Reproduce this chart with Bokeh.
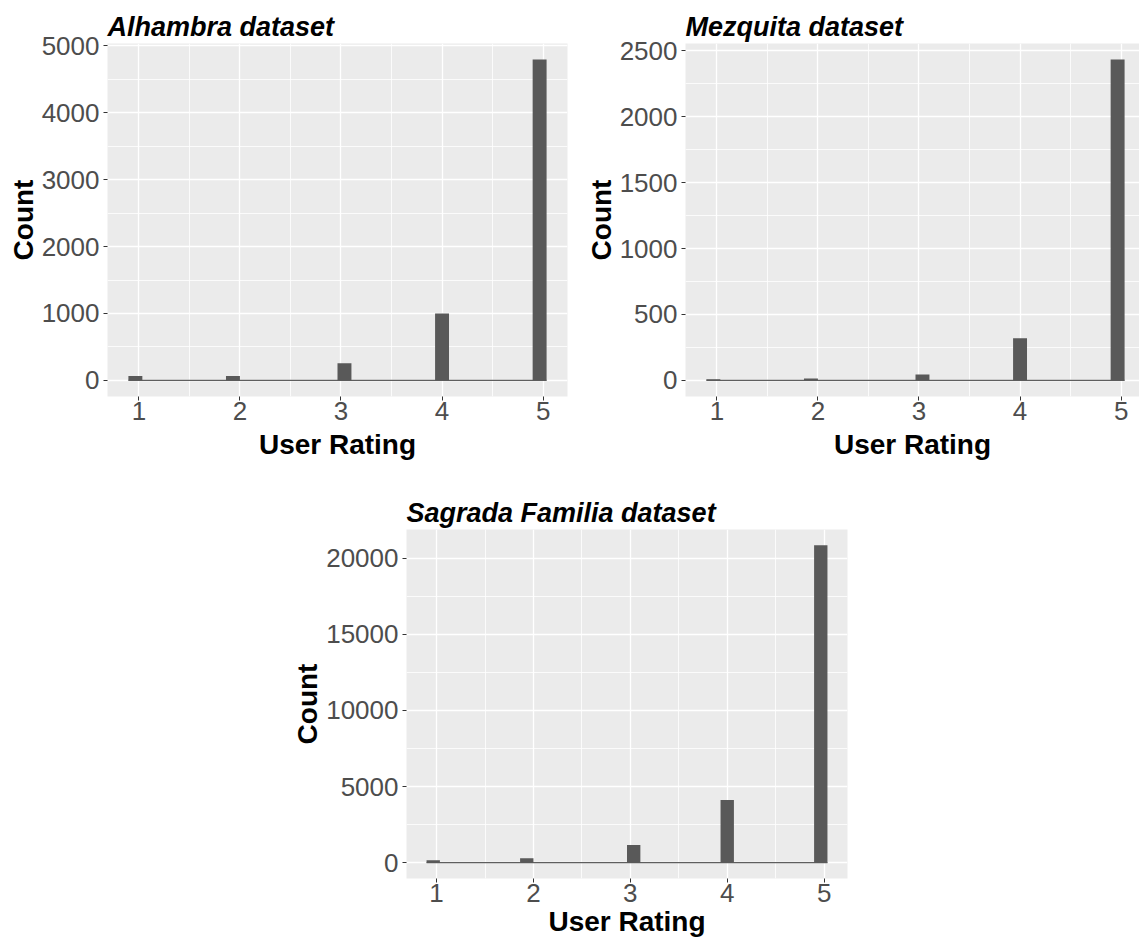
import math
from bokeh.plotting import figure
from bokeh.models import Range1d, FixedTicker, Spacer
from bokeh.layouts import column, row
from bokeh.embed import file_html
from bokeh.resources import INLINE

# ---------------- data ----------------
ratings = [1, 2, 3, 4, 5]

alhambra_counts = [65, 65, 257, 1000, 4792]
mezquita_counts = [10, 15, 45, 320, 2432]
sagrada_counts = [150, 290, 1160, 4120, 20850]

alhambra_title = "Alhambra dataset"
mezquita_title = "Mezquita dataset"
sagrada_title = "Sagrada Familia dataset"

x_ticks = [1, 2, 3, 4, 5]
alhambra_yticks = [0, 1000, 2000, 3000, 4000, 5000]
mezquita_yticks = [0, 500, 1000, 1500, 2000, 2500]
sagrada_yticks = [0, 5000, 10000, 15000, 20000]

x_label = "User Rating"
y_label = "Count"
n_bins = 30

# ---------------- style ----------------
FONT = "Liberation Sans"
PANEL_BG = "#EBEBEB"
BAR = "#595959"
TICK_TXT = "#4D4D4D"
TICK_COL = "#333333"


def gg_bins(values, bins):
    lo, hi = min(values), max(values)
    width = (hi - lo) / (bins - 1)
    boundary = width / 2
    shift = math.floor((lo - boundary) / width)
    origin = boundary + shift * width
    lefts = []
    for v in values:
        idx = math.ceil((v - origin) / width - 1e-7) - 1
        lefts.append(origin + idx * width)
    rights = [l + width for l in lefts]
    return lefts, rights


def midpoints(t):
    return [(a + b) / 2 for a, b in zip(t[:-1], t[1:])]


def make_panel(title, counts, yticks, width, height, bl, br, bt, bb,
               x_frac=1.0, xlab_standoff=6):
    lefts, rights = gg_bins(ratings, n_bins)
    x0, x1 = min(lefts), max(rights)
    xs = (x1 - x0) * 0.05
    xr0, xr1 = x0 - xs, x1 + xs
    xr1 = xr0 + (xr1 - xr0) * x_frac
    ymax = max(counts)
    yr = Range1d(-0.05 * ymax, 1.05 * ymax)

    p = figure(width=width, height=height, output_backend="svg", toolbar_location=None,
               x_range=Range1d(xr0, xr1), y_range=yr,
               min_border_left=bl, min_border_right=br, min_border_top=bt, min_border_bottom=bb)
    p.background_fill_color = PANEL_BG
    p.border_fill_color = "white"
    p.outline_line_color = None

    p.title.text = title
    p.title.text_font = FONT
    p.title.text_font_size = "27px"
    p.title.text_font_style = "bold italic"
    p.title.text_color = "black"
    p.title.align = "left"
    p.title.offset = 0
    p.title.standoff = 4

    p.xaxis.ticker = FixedTicker(ticks=x_ticks, minor_ticks=midpoints(x_ticks))
    p.yaxis.ticker = FixedTicker(ticks=yticks, minor_ticks=midpoints(yticks))

    for ax in (p.xaxis, p.yaxis):
        ax.axis_line_color = None
        ax.major_tick_line_color = TICK_COL
        ax.major_tick_line_width = 1
        ax.major_tick_out = 4
        ax.major_tick_in = 0
        ax.minor_tick_out = 0
        ax.minor_tick_in = 0
        ax.major_label_text_font = FONT
        ax.major_label_text_font_size = "26px"
        ax.major_label_text_color = TICK_TXT
        ax.axis_label_text_font = FONT
        ax.axis_label_text_font_size = "28px"
        ax.axis_label_text_font_style = "bold"
        ax.axis_label_text_color = "black"
    p.xaxis.axis_label = x_label
    p.yaxis.axis_label = y_label
    p.xaxis.major_label_standoff = 1
    p.xaxis.axis_label_standoff = xlab_standoff
    p.yaxis.major_label_standoff = 4
    p.yaxis.axis_label_standoff = 0

    for g in (p.xgrid, p.ygrid):
        g.grid_line_color = "white"
        g.grid_line_width = 1.3
        g.minor_grid_line_color = "white"
        g.minor_grid_line_width = 0.8

    # zero-height bins appear as a baseline
    p.line(x=[min(lefts), max(rights)], y=[0, 0], line_color="#5E5E5E", line_width=1.3)
    p.quad(left=lefts, right=rights, bottom=[0] * len(counts), top=counts,
           fill_color=BAR, line_color=None)
    return p


p1 = make_panel(alhambra_title, alhambra_counts, alhambra_yticks,
                width=578, height=468, bl=107, br=11, bt=43, bb=72)
p2 = make_panel(mezquita_title, mezquita_counts, mezquita_yticks,
                width=561, height=468, bl=107, br=0, bt=43, bb=72, x_frac=454 / 460)
p3 = make_panel(sagrada_title, sagrada_counts, sagrada_yticks,
                width=568, height=476, bl=114, br=10, bt=61, bb=66, xlab_standoff=1)

layout = column(row(p1, p2), row(Spacer(width=289, height=10), p3))

open("out.html", "w").write(file_html(layout, INLINE))
